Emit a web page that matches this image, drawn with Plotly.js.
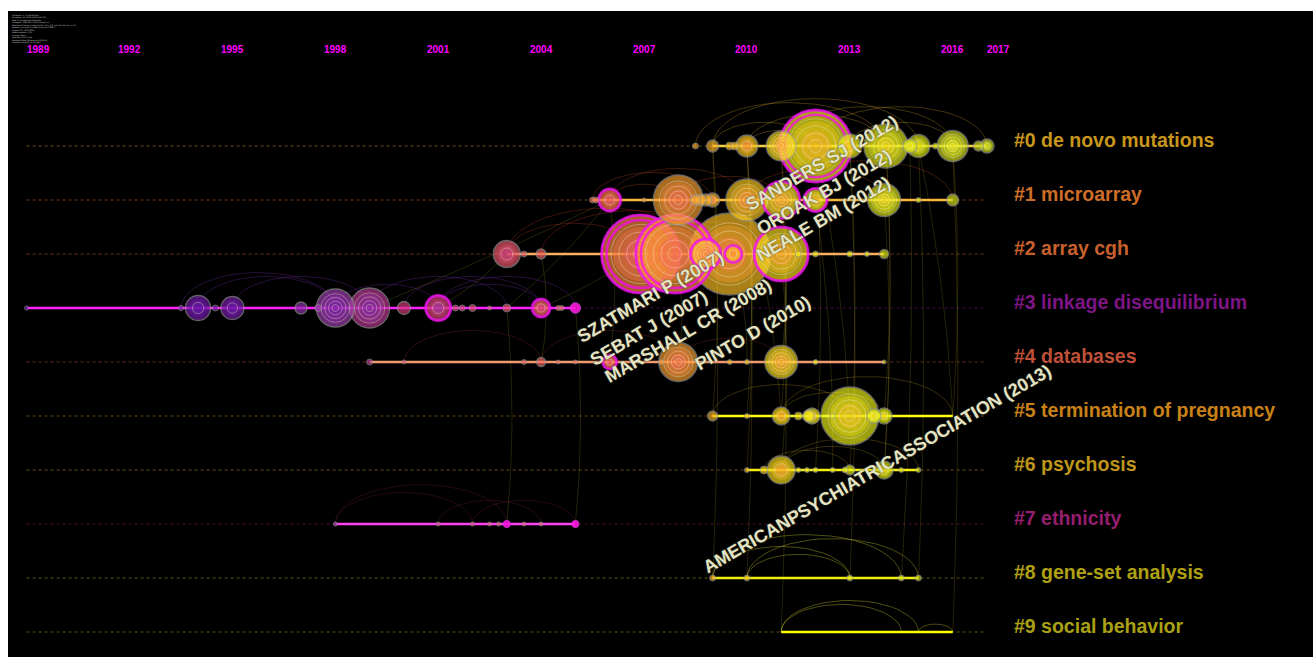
<!DOCTYPE html>
<html><head><meta charset="utf-8">
<script src="https://cdn.plot.ly/plotly-3.0.1.min.js"></script>
<style>html,body{margin:0;padding:0;background:#fff;overflow:hidden}</style>
</head><body><div id="chart" style="width:1313px;height:664px"></div>
<script>
// ---------------- DATA ----------------
const yearTicks = [1989,1992,1995,1998,2001,2004,2007,2010,2013,2016,2017];
const clusterIds = [0,1,2,3,4,5,6,7,8,9];
const clusterNames = ["de novo mutations","microarray","array cgh","linkage disequilibrium","databases","termination of pregnancy","psychosis","ethnicity","gene-set analysis","social behavior"];
const clusterStart = [2009,2005.5,2003,1989,1999,2009,2010,1998,2009,2011];
const clusterEnd   = [2017,2016,2014,2005,2014,2016,2015,2005,2015,2016];

const nodeCluster = [
 0,0,0,0,0,0,0,0,0,0,0,0,0,0,0,
 1,1,1,1,1,1,1,1,1,1,1,1,1,1,1,
 2,2,2,2,2,2,2,2,2,2,2,2,2,2,
 3,3,3,3,3,3,3,3,3,3,3,3,3,3,3,3,3,3,3,3,
 4,4,4,4,4,4,4,4,4,4,4,4,4,4,
 5,5,5,5,5,5,5,5,5,5,
 6,6,6,6,6,6,6,6,6,6,6,6,
 7,7,7,7,7,7,7,7,7,
 8,8,8,8,8];
const nodeYear = [
 2008.5,2009,2009.5,2009.65,2010,2011,2012,2013,2014.05,2014.75,2015,2015.5,2016,2016.75,2017,
 2005.5,2005.6,2006,2007,2008,2008.5,2008.65,2008.8,2009,2010,2011,2012,2014,2015,2016,
 2003,2003.5,2004,2006.9,2007.9,2009.5,2008.8,2009.6,2011,2011.5,2012,2013,2013.5,2014,
 1989,1993.5,1994,1994.5,1995,1997,1997.5,1998,1999,2000,2001,2001.5,2001.7,2002,2002.5,2003,2004,2004.5,2004.6,2005,
 1999,2000,2003.5,2004,2004.5,2005,2006,2007.5,2008,2009.5,2010,2011,2012,2014,
 2009,2010,2011,2011.5,2011.8,2011.9,2012.5,2013,2013.7,2014,
 2010,2010.5,2011,2011.5,2011.75,2012,2012.5,2012.86,2013,2014,2014.5,2015,
 1998,2001,2002,2002.5,2002.76,2003,2003.5,2004,2005,
 2009,2010,2013,2014.5,2015];
const nodeSize = [
 6,12,8,8,22,30,72,24,44,14,23,6,31,10,14,
 6,6,22,4,50,10,11,12,14,42,37,23,33,5,12,
 27,6,10,78,78,82,30,17,54,6,6,6,5,9,
 4,5,25,6,23,12,7,38,40,13,25,6,6,7,4,8,18,5,5,10,
 6,4,5,9,4,4,14,5,39,5,5,33,5,4,
 10,5,18,8,12,16,5,58,14,16,
 5,8,28,5,5,5,5,6,10,18,5,5,
 4,4,4,4,4,7,4,4,7,
 6,6,6,6,6];
const nodeBurst = [
 0,0,0,0,0,0,1,0,0,0,0,0,0,0,0,
 0,0,1,0,0,0,0,0,0,0,1,1,0,0,0,
 0,0,0,1,1,0,1,1,1,0,0,0,0,0,
 0,0,0,0,0,0,0,0,0,0,1,0,0,0,0,0,1,0,0,1,
 0,0,0,0,0,0,1,0,0,0,0,0,0,0,
 0,0,0,0,0,0,0,0,0,0,
 0,0,0,0,0,0,0,0,0,0,0,0,
 0,0,0,0,0,1,0,0,1,
 0,0,0,0,0];

const refLabels = ["SANDERS SJ (2012)","OROAK BJ (2012)","NEALE BM (2012)","SZATMARI P (2007)","SEBAT J (2007)","MARSHALL CR (2008)","PINTO D (2010)","AMERICANPSYCHIATRICASSOCIATION (2013)"];

// co-citation arcs inside a cluster
const arcCluster = [0,0,0,0,0,0,0,0, 1,1,1,1,1,1, 2,2,2,2, 3,3,3,3,3,3,3,3, 4,4,4, 5,5,5, 6,6,6, 7,7,7,7, 8,8,8,8, 9,9,9];
const arcFrom    = [2009,2010,2011,2009,2012,2010,2013,2008.5, 2006,2006,2008,2005.5,2010,2011, 2003,2003,2004,2006.9, 1994,1995,1993.5,1998,1999,2001,2000,2001, 2000,2004,2008, 2009,2011,2011, 2011,2011,2010.5, 1998,2001,2002,1998, 2009,2009,2010,2010, 2011,2011,2015];
const arcTo      = [2012,2014,2016,2015,2017,2012,2016,2014, 2008,2010,2011,2009,2014,2016, 2006.9,2008.8,2009.5,2011, 1998,1999,1998,2001,2003,2005,2004,2004, 2004,2008,2011, 2013,2016,2014, 2014,2015,2013, 2003,2004,2005,2002, 2013,2014.5,2015,2013, 2014.5,2015,2016];

// links between clusters
const linkFromCluster = [0,0,0,0,0,0, 0,0,0,0,0, 0,0, 2,1,1, 2,2,2, 3,3,3,3, 4,4, 7,7, 0,1,0, 0,1,0,0];
const linkFromYear    = [2009,2010,2011,2012,2014.05,2015, 2009,2010,2013,2015,2014.75, 2011,2016, 2011,2012,2014, 2007.9,2009.5,2011, 2001,2004,1999,2003, 2004,2006, 2003,2005, 2013,2010,2016, 2012,2011,2014.05,2010];
const linkToCluster   = [5,5,5,5,5,5, 8,8,8,8,8, 9,9, 6,6,6, 4,4,4, 2,2,1,1, 2,1, 3,3, 6,5,5, 6,4,6,6];
const linkToYear      = [2009,2010,2011,2013,2014,2016, 2009,2010,2013,2015,2014.5, 2011,2016, 2011,2012.5,2014, 2008,2010,2011, 2003,2006.9,2006,2006, 2004,2006, 2003,2005, 2013,2011,2016, 2012,2011,2014,2010];

// ---------------- STYLE ----------------
const labelColors = ['#c8961c','#cd6e28','#c8602d','#7d1585','#be5038','#c88218','#be9619','#961e6e','#afa014','#aaa014'];
const lineColors  = ['#f2d040','#f8b840','#f8b060','#ff20ff','#f09a70','#ffff10','#f6f010','#ff40f0','#eeee10','#ffff00'];
const arcColors   = ['rgba(220,170,40,0.3)','rgba(200,80,40,0.3)','rgba(200,60,40,0.3)','rgba(100,40,150,0.38)','rgba(150,50,40,0.3)','rgba(180,150,30,0.3)','rgba(180,150,30,0.3)','rgba(120,30,70,0.3)','rgba(170,170,40,0.45)','rgba(170,170,40,0.45)'];
const colorStops = [[1989,[90,20,170]],[1995,[120,30,170]],[1998,[160,60,180]],[2000,[210,60,120]],[2003,[235,90,110]],[2006,[250,120,70]],[2008,[250,160,50]],[2010,[250,200,30]],[2012,[245,240,25]],[2014,[225,235,20]],[2017,[205,220,30]]];

const PXY = 34.3, PXR = 54;
function px2x(p){return 2007+(p-644)/PXY;}
function px2y(p){return (p-146)/PXR;}
function yearColor(y,a){
  if(y<=colorStops[0][0]){const c=colorStops[0][1];return `rgba(${c[0]},${c[1]},${c[2]},${a})`;}
  for(let i=1;i<colorStops.length;i++){
    if(y<=colorStops[i][0]){
      const [y0,c0]=colorStops[i-1],[y1,c1]=colorStops[i];const t=(y-y0)/(y1-y0);
      const c=c0.map((v,j)=>Math.round(v+(c1[j]-v)*t));
      return `rgba(${c[0]},${c[1]},${c[2]},${a})`;
    }
  }
  const c=colorStops[colorStops.length-1][1];return `rgba(${c[0]},${c[1]},${c[2]},${a})`;
}

const traces=[];
// dotted guides
clusterIds.forEach(k=>{
  traces.push({type:'scatter',mode:'lines',x:[1989,2017],y:[k,k],hoverinfo:'skip',
    line:{color:labelColors[k],width:1,dash:'dot'},opacity:0.55});
});
// in-cluster arcs
clusterIds.forEach(k=>{
  const xs=[],ys=[];
  arcCluster.forEach((c,i)=>{
    if(c!==k)return;
    const a=arcFrom[i],b=arcTo[i],mid=(a+b)/2,half=(b-a)/2;
    const h=Math.min((b-a)*PXY*0.23,48)/PXR;
    for(let s=0;s<=24;s++){const t=Math.PI*s/24;xs.push(mid-half*Math.cos(t));ys.push(k-h*Math.sin(t));}
    xs.push(null);ys.push(null);
  });
  traces.push({type:'scatter',mode:'lines',x:xs,y:ys,hoverinfo:'skip',line:{color:arcColors[k],width:1}});
});
// inter-cluster links
{
  const xs=[],ys=[];
  linkFromCluster.forEach((c,i)=>{
    const x0=linkFromYear[i],y0=c,x1=linkToYear[i],y1=linkToCluster[i];
    const cx=(x0+x1)/2+0.3,cy=(y0+y1)/2;
    for(let s=0;s<=16;s++){const t=s/16;
      xs.push((1-t)*(1-t)*x0+2*(1-t)*t*cx+t*t*x1);
      ys.push((1-t)*(1-t)*y0+2*(1-t)*t*cy+t*t*y1);}
    xs.push(null);ys.push(null);
  });
  traces.push({type:'scatter',mode:'lines',x:xs,y:ys,hoverinfo:'skip',line:{color:'rgba(190,170,40,0.25)',width:0.8}});
}
// timelines
clusterIds.forEach(k=>{
  traces.push({type:'scatter',mode:'lines',x:[clusterStart[k],clusterEnd[k]],y:[k,k],hoverinfo:'skip',
    line:{color:lineColors[k],width:2.6}});
});
// nodes (outer disc + inner core + tree rings + burst rings, in draw order)
{
  const idx=nodeYear.map((_,i)=>i).sort((a,b)=>nodeSize[b]-nodeSize[a]);
  const X=[],Y=[],S=[],C=[],SYM=[],LC=[],LW=[];
  function pt(x,y,s,c,sym,lc,lw){X.push(x);Y.push(y);S.push(s);C.push(c);SYM.push(sym);LC.push(lc);LW.push(lw);}
  idx.forEach(i=>{
    const x=nodeYear[i],y=nodeCluster[i],d=nodeSize[i];
    pt(x,y,d,yearColor(x,0.96),'circle','rgba(150,150,150,0.95)',d>8?1.3:1);
    if(d>=14){
      pt(x,y,d*0.7,yearColor(x-1.5,0.55),'circle','rgba(0,0,0,0)',0);
      pt(x,y,d*0.42,yearColor(x-3.5,0.6),'circle','rgba(0,0,0,0)',0);
    }
    let fr=[];
    if(d>=30)fr=[0.18,0.36,0.56,0.76];else if(d>=14)fr=[0.45];
    fr.forEach(f=>pt(x,y,d*f,'rgba(255,242,220,0.5)','circle-open','rgba(255,242,220,0.5)',1));
    if(nodeBurst[i]){
      if(d<12) pt(x,y,Math.max(d,6),'#ff00ff','circle','#ff00ff',1);
      else pt(x,y,d,'#ff00ff','circle-open','#ff00ff',3);
      if(d>=60) pt(x,y,d*0.87,'#ff00ff','circle-open','#ff00ff',2.5);
    }
  });
  traces.push({type:'scatter',mode:'markers',x:X,y:Y,hoverinfo:'skip',
    marker:{size:S,color:C,symbol:SYM,line:{color:LC,width:LW}}});
}

// ---------------- ANNOTATIONS ----------------
const ann=[];
yearTicks.forEach((yr,i)=>{
  const edge=(i===0||i===yearTicks.length-1);
  ann.push({x:yr,y:px2y(49),xref:'x',yref:'y',text:'<b>'+yr+'</b>',showarrow:false,xshift:edge?-2:0,
    xanchor:edge?'left':'center',yanchor:'middle',font:{family:'Liberation Sans, Arial',size:10,color:'#ff00ff'}});
});
clusterIds.forEach(k=>{
  ann.push({x:px2x(1012),y:k,xref:'x',yref:'y',yshift:6,text:'<b>#'+k+' '+clusterNames[k]+'</b>',showarrow:false,
    xanchor:'left',yanchor:'middle',font:{family:'Liberation Sans, Arial',size:19.5,color:labelColors[k]}});
});
const refCentersPx=[[822,163],[824,192],[823,219],[650,297],[649,328],[688,331],[753,333],[877,469]];
refLabels.forEach((t,i)=>{
  ann.push({x:px2x(refCentersPx[i][0]),y:px2y(refCentersPx[i][1]),xref:'x',yref:'y',text:'<b>'+t+'</b>',showarrow:false,
    textangle:-30,xanchor:'center',yanchor:'middle',
    font:{family:'Liberation Sans, Arial',size:18,color:'rgb(228,228,196)',shadow:'0px 0px 2px rgba(60,60,40,1)'}});
});
const header=["CiteSpace, v. 5.3.R4 (64-bit)","December 10, 2018 9:46:39 AM CST","WoS: C:\\citespace\\autism\\data","Timespan: 1989-2017 (Slice Length=1)","Selection Criteria: g-index (k=25), LRF=3.0, L/N=10, LBY=8, e=2.0","Network: N=1146, E=4402 (Density=0.0067)","Largest CC: 1039 (90%)","Nodes Labeled: 1.0%","Pruning: None","Modularity Q=0.7345","Weighted Mean Silhouette S=0.8532","Harmonic Mean(Q, S)=0.7883"];
ann.push({xref:'paper',yref:'paper',x:10/1313,y:1-12/664,xanchor:'left',yanchor:'top',align:'left',showarrow:false,
  text:header.join('<br>'),font:{family:'DejaVu Sans',size:1.9,color:'#d8d8d8'}});

const layout={width:1313,height:664,margin:{l:0,r:0,t:0,b:0,pad:0},autosize:false,
  paper_bgcolor:'#ffffff',plot_bgcolor:'rgba(0,0,0,0)',showlegend:false,hovermode:false,
  xaxis:{range:[px2x(0),px2x(1313)],visible:false,fixedrange:true},
  yaxis:{range:[px2y(664),px2y(0)],visible:false,fixedrange:true},
  shapes:[{type:'rect',xref:'paper',yref:'paper',x0:8/1313,x1:1,y0:1-657/664,y1:1-11/664,fillcolor:'#000',line:{width:0},layer:'below'}],
  annotations:ann};
Plotly.newPlot('chart',traces,layout,{staticPlot:true,displayModeBar:false});
</script></body></html>
